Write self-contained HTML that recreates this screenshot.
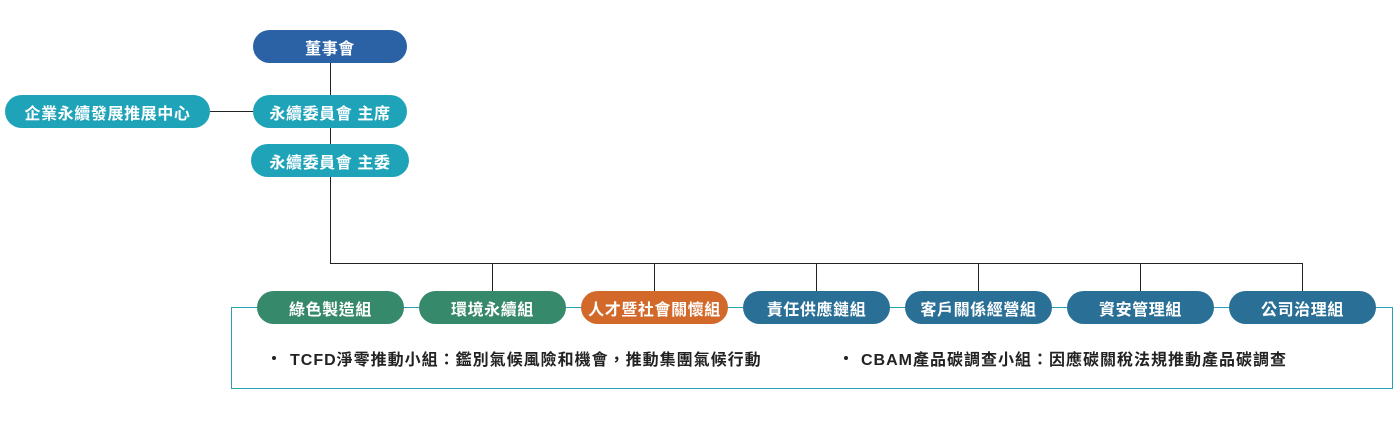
<!DOCTYPE html>
<html><head><meta charset="utf-8"><style>
body{margin:0;width:1400px;height:428px;background:#fff;position:relative;overflow:hidden;font-family:"Liberation Sans","Noto Sans CJK TC",sans-serif}
.p{position:absolute;border-radius:17px;color:#fff;font-weight:bold;font-size:16px;letter-spacing:0.6px;display:flex;align-items:center;justify-content:center;height:33px}
.l{position:absolute;background:#222}
.t{position:absolute;font-size:16px;font-weight:bold;color:#222;top:346px;white-space:nowrap;letter-spacing:1px}
.b{position:absolute;width:4px;height:4px;border-radius:2px;background:#222;top:356px}
</style></head><body>
<div class="l" style="left:330px;top:63px;width:1px;height:200px"></div>
<div class="l" style="left:210px;top:111px;width:43px;height:1px"></div>
<div class="l" style="left:330px;top:263px;width:973px;height:1px"></div>
<div class="l" style="left:492px;top:263px;width:1px;height:28px"></div>
<div class="l" style="left:654px;top:263px;width:1px;height:28px"></div>
<div class="l" style="left:816px;top:263px;width:1px;height:28px"></div>
<div class="l" style="left:978px;top:263px;width:1px;height:28px"></div>
<div class="l" style="left:1140px;top:263px;width:1px;height:28px"></div>
<div class="l" style="left:1302px;top:263px;width:1px;height:28px"></div>
<div style="position:absolute;left:231px;top:307px;width:1160px;height:80px;border:1px solid #2aa0b4"></div>
<div class="p" style="left:253px;top:30px;width:154px;background:#2a62a5">董事會</div>
<div class="p" style="left:5px;top:95px;width:205px;background:#1fa3b8">企業永續發展推展中心</div>
<div class="p" style="left:253px;top:95px;width:154px;background:#1fa3b8">永續委員會 主席</div>
<div class="p" style="left:251px;top:144px;width:158px;background:#1fa3b8">永續委員會 主委</div>
<div class="p" style="left:257px;top:291px;width:147px;background:#37896b">綠色製造組</div>
<div class="p" style="left:419px;top:291px;width:147px;background:#37896b">環境永續組</div>
<div class="p" style="left:581px;top:291px;width:147px;background:#d2692a">人才暨社會關懷組</div>
<div class="p" style="left:743px;top:291px;width:147px;background:#2a6f96">責任供應鏈組</div>
<div class="p" style="left:905px;top:291px;width:147px;background:#2a6f96">客戶關係經營組</div>
<div class="p" style="left:1067px;top:291px;width:147px;background:#2a6f96">資安管理組</div>
<div class="p" style="left:1229px;top:291px;width:147px;background:#2a6f96">公司治理組</div>
<div class="b" style="left:272px"></div>
<div class="t" style="left:290px">TCFD淨零推動小組：鑑別氣候風險和機會，推動集團氣候行動</div>
<div class="b" style="left:844px"></div>
<div class="t" style="left:861px">CBAM產品碳調查小組：因應碳關稅法規推動產品碳調查</div>
</body></html>
